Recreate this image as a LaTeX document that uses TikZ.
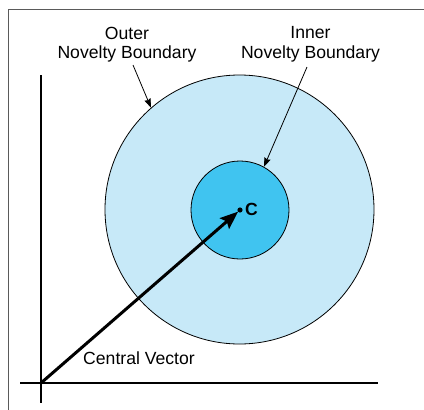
\documentclass[tikz,border=0pt]{standalone}
\usepackage{fontspec}
\setmainfont{Liberation Sans}
\usetikzlibrary{arrows.meta}
\definecolor{outerblue}{RGB}{199,233,248}
\definecolor{innerblue}{RGB}{64,196,240}
\definecolor{framegray}{RGB}{90,90,90}
\begin{document}
\begin{tikzpicture}[x=1pt,y=-1pt,
  lbl/.style={font=\fontsize{17.6}{19.5}\selectfont, align=center, inner sep=0pt},
  ring/.style={circle, draw=black, line width=0.8pt, inner sep=0pt},
  pointer/.style={line width=0.8pt, -{Stealth[length=9pt,width=6.5pt,inset=1pt]}},
  axis/.style={line width=1.6pt},
  vec/.style={line width=3pt, -{Stealth[length=18pt,width=14pt,inset=3pt]}, shorten >=2.5pt}]
\useasboundingbox (0,0) rectangle (424,410);
% frame
\draw[framegray, line width=0.8pt] (8,412) -- (8,9) -- (426,9);
% circles
\node[ring, fill=outerblue, minimum size=269pt] (outer) at (239.5,209.5) {};
\node[ring, fill=innerblue, minimum size=98pt] (inner) at (240,210) {};
\coordinate (c) at (240,210);
\fill (c) circle (2.6pt);
\node[font=\fontsize{17.6}{19.5}\selectfont\bfseries, anchor=west, inner sep=0pt] (clabel) at (245,209) {C};
% axes
\coordinate (o) at (41,383);
\coordinate (ytop) at (41,75);
\coordinate (ybot) at (41,403);
\coordinate (xl) at (20,383);
\coordinate (xr) at (378,383);
\draw[axis] (ytop) -- (ybot);
\draw[axis] (xl) -- (xr);
% central vector
\draw[vec] (o) -- (c);
\node[lbl] (cv) at (139,358) {Central Vector};
% labels
\node[lbl] (outerlbl) at (127,44.5) {Outer\\Novelty Boundary};
\node[lbl] (innerlbl) at (310.5,44.5) {Inner\\Novelty Boundary};
\coordinate (os) at (133,65);
\coordinate (is) at (307,67);
\draw[pointer] (os) -- (outer.131);
\draw[pointer] (is) -- (inner.61);
\end{tikzpicture}
\end{document}
